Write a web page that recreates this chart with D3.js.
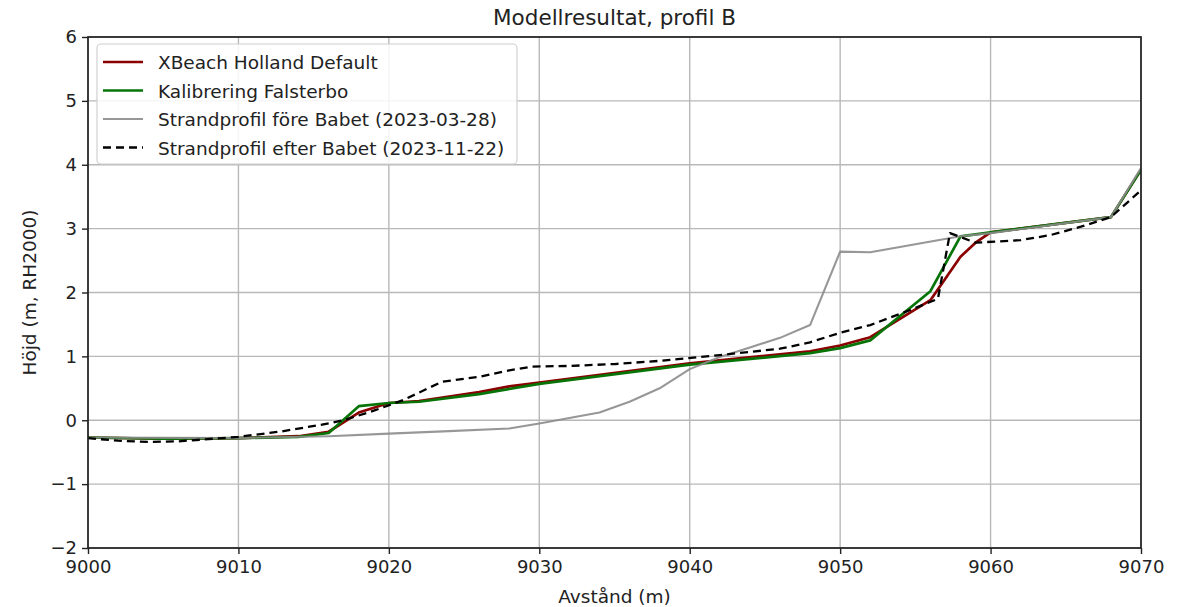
<!DOCTYPE html>
<html><head><meta charset="utf-8">
<script src="https://cdn.jsdelivr.net/npm/d3@7"></script>
<style>body{margin:0;background:#fff;} text{font-family:"DejaVu Sans",sans-serif;fill:#222;}</style>
</head><body><svg id="c" width="1186" height="607"></svg>
<script>
const xbeach = [[9000,-0.27],[9005,-0.29],[9010,-0.28],[9014,-0.25],[9016,-0.18],[9018,0.12],[9020,0.27],[9022,0.3],[9026,0.44],[9028,0.53],[9030,0.59],[9040,0.89],[9048,1.08],[9050,1.17],[9052,1.3],[9056,1.88],[9058,2.56],[9059,2.78],[9060,2.94],[9068,3.18],[9070,3.92]];
const kalibrering = [[9000,-0.27],[9005,-0.29],[9010,-0.28],[9014,-0.26],[9016,-0.2],[9018,0.22],[9020,0.27],[9022,0.29],[9026,0.41],[9030,0.57],[9040,0.87],[9048,1.05],[9050,1.13],[9052,1.25],[9056,2.02],[9058,2.88],[9060,2.94],[9068,3.18],[9070,3.92]];
const fore = [[9000,-0.27],[9010,-0.28],[9016,-0.25],[9020,-0.21],[9024,-0.17],[9028,-0.13],[9030,-0.05],[9034,0.12],[9036,0.29],[9038,0.5],[9040,0.8],[9042,0.99],[9044,1.14],[9046,1.29],[9048,1.49],[9050,2.64],[9052,2.63],[9058,2.88],[9060,2.93],[9068,3.18],[9070,3.95]];
const efter = [[9000,-0.28],[9002,-0.32],[9004,-0.34],[9006,-0.33],[9010,-0.26],[9013,-0.17],[9016,-0.05],[9017,0.0],[9019,0.15],[9021,0.32],[9023.5,0.6],[9026,0.68],[9028,0.78],[9029.5,0.84],[9032,0.85],[9035,0.88],[9038,0.93],[9042,1.02],[9046,1.12],[9048,1.22],[9050,1.37],[9052,1.49],[9054.7,1.73],[9056.5,1.9],[9057.3,2.93],[9059,2.78],[9062,2.82],[9064,2.9],[9066,3.03],[9068,3.18],[9070,3.6]];
const xTicks = [9000,9010,9020,9030,9040,9050,9060,9070];
const yTicks = [-2,-1,0,1,2,3,4,5,6];
const seriesNames = ["XBeach Holland Default","Kalibrering Falsterbo","Strandprofil före Babet (2023-03-28)","Strandprofil efter Babet (2023-11-22)"];

const W=1186,H=607, m={l:88,r:45,t:37,b:59};
const svg=d3.select("#c");
const x=d3.scaleLinear().domain([9000,9070]).range([m.l,W-m.r]);
const y=d3.scaleLinear().domain([-2,6]).range([H-m.b,m.t]);

// grid
const g=svg.append("g");
g.selectAll(".gx").data(xTicks).join("line").attr("x1",d=>x(d)).attr("x2",d=>x(d)).attr("y1",m.t).attr("y2",H-m.b).attr("stroke","#b8b8b8").attr("stroke-width",1.4);
g.selectAll(".gy").data(yTicks).join("line").attr("y1",d=>y(d)).attr("y2",d=>y(d)).attr("x1",m.l).attr("x2",W-m.r).attr("stroke","#b8b8b8").attr("stroke-width",1.4);

const plot=svg.append("g");
svg.append("clipPath").attr("id","cp").append("rect").attr("x",m.l).attr("y",m.t).attr("width",W-m.l-m.r).attr("height",H-m.t-m.b);
const line=d3.line().x(d=>x(d[0])).y(d=>y(d[1]));
const styles=[
 {data:xbeach,color:"#8b0000",w:2.7,dash:null,op:1},
 {data:kalibrering,color:"#067406",w:2.7,dash:null,op:1},
 {data:fore,color:"#8c8c8c",w:2.1,dash:null,op:0.9},
 {data:efter,color:"#000",w:2.3,dash:"8,5",op:1}
];
const pg=plot.append("g").attr("clip-path","url(#cp)");
styles.forEach(s=>{
  pg.append("path").datum(s.data).attr("d",line).attr("fill","none").attr("stroke",s.color).attr("stroke-width",s.w).attr("stroke-dasharray",s.dash).attr("opacity",s.op).attr("stroke-linejoin","round");
});

// axes
const xa=svg.append("g").attr("transform",`translate(0,${H-m.b})`).call(d3.axisBottom(x).tickValues(xTicks).tickFormat(d3.format("d")).tickSizeOuter(0).tickSize(6).tickPadding(6));
const ya=svg.append("g").attr("transform",`translate(${m.l},0)`).call(d3.axisLeft(y).tickValues(yTicks).tickFormat(d=>d<0?"\u2212"+Math.abs(d):d).tickSizeOuter(0).tickSize(6).tickPadding(5));
[xa,ya].forEach(a=>{a.select(".domain").remove();a.selectAll("line").attr("stroke","#222").attr("stroke-width",1.4);a.selectAll("text").attr("font-size",18).attr("font-family","DejaVu Sans").attr("fill","#222");});
// frame
svg.append("rect").attr("x",m.l).attr("y",m.t).attr("width",W-m.l-m.r).attr("height",H-m.t-m.b).attr("fill","none").attr("stroke","#222").attr("stroke-width",1.7);

svg.append("text").attr("x",(m.l+W-m.r)/2).attr("y",25).attr("text-anchor","middle").attr("font-size",21.5).text("Modellresultat, profil B");
svg.append("text").attr("x",(m.l+W-m.r)/2).attr("y",603).attr("text-anchor","middle").attr("font-size",18.5).text("Avstånd (m)");
svg.append("text").attr("transform",`translate(36,${(m.t+H-m.b)/2}) rotate(-90)`).attr("text-anchor","middle").attr("font-size",18.5).text("Höjd (m, RH2000)");

// legend
const lg=svg.append("g");
lg.append("rect").attr("x",97).attr("y",44).attr("width",420).attr("height",120).attr("rx",4).attr("fill","#fff").attr("fill-opacity",0.85).attr("stroke","#d0d0d0").attr("stroke-width",1.2);
seriesNames.forEach((n,i)=>{
  const yy=62+i*28.5, s=styles[i];
  lg.append("line").attr("x1",103).attr("x2",143).attr("y1",yy).attr("y2",yy).attr("stroke",s.color).attr("stroke-width",s.w).attr("stroke-dasharray",s.dash).attr("opacity",s.op);
  lg.append("text").attr("x",158).attr("y",yy+7).attr("font-size",18.5).text(n);
});
</script></body></html>
